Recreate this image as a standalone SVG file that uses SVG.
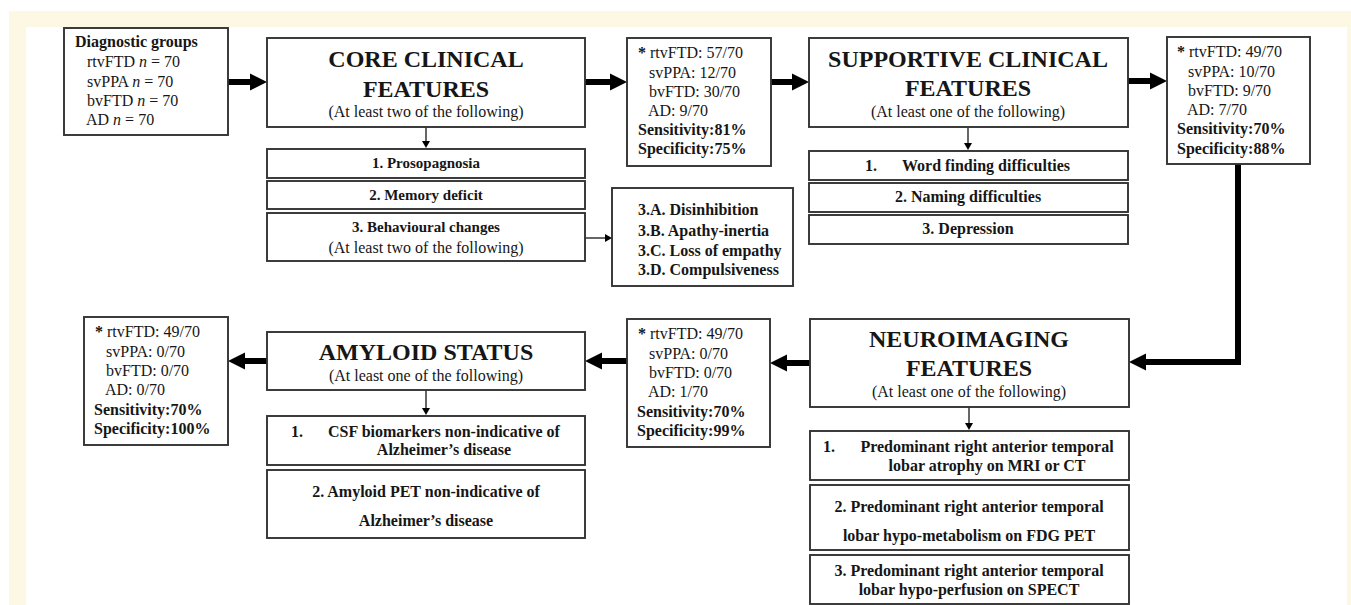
<svg xmlns="http://www.w3.org/2000/svg" width="1351" height="605" viewBox="0 0 1351 605">
<defs>
<style>
.bx{fill:#fff;stroke:#333;stroke-width:1.9}
text{font-family:"Liberation Serif","Times New Roman",serif;fill:#161616;font-size:16px}
.b{font-weight:bold}
.t{font-weight:bold;font-size:24px;text-anchor:middle}
.m{text-anchor:middle}
.s15{font-size:15px}
.thick{fill:none;stroke:#000;stroke-width:6;stroke-linejoin:miter}
.thin{fill:none;stroke:#000;stroke-width:1.2}
</style>
<marker id="ah" markerUnits="userSpaceOnUse" viewBox="0 -9 17 18" markerWidth="17" markerHeight="18" refX="0" refY="0" orient="auto">
<path d="M0,-8.5 L17,0 L0,8.5 z" fill="#000"/>
</marker>
<marker id="as" markerUnits="userSpaceOnUse" viewBox="0 -4 7 8" markerWidth="7" markerHeight="8" refX="0" refY="0" orient="auto">
<path d="M0,-4 L7,0 L0,4 z" fill="#000"/>
</marker>
</defs>
<rect x="0" y="0" width="1351" height="605" fill="#fff"/>
<rect x="9" y="11" width="1342" height="594" fill="#fdf8e3"/>
<rect x="26" y="27" width="1321" height="578" fill="#fff"/>

<g id="connectors">
<path class="thick" d="M228 82 H250" marker-end="url(#ah)"/>
<path class="thick" d="M585 82 H610" marker-end="url(#ah)"/>
<path class="thick" d="M771 82 H792" marker-end="url(#ah)"/>
<path class="thick" d="M1128 81 H1150" marker-end="url(#ah)"/>
<path class="thick" d="M1238 164 V362 H1146" marker-end="url(#ah)"/>
<path class="thick" d="M810 363 H787" marker-end="url(#ah)"/>
<path class="thick" d="M627 361 H602" marker-end="url(#ah)"/>
<path class="thick" d="M267 361 H245" marker-end="url(#ah)"/>
<path class="thin" d="M426 127 V141" marker-end="url(#as)"/>
<path class="thin" d="M585 238 H605" marker-end="url(#as)"/>
<path class="thin" d="M968 127 V143" marker-end="url(#as)"/>
<path class="thin" d="M969 407 V423" marker-end="url(#as)"/>
<path class="thin" d="M426 390 V408" marker-end="url(#as)"/>
</g>

<g id="diagnostic-groups">
<rect class="bx" x="64" y="28" width="164" height="107"/>
<text class="b" x="75" y="47">Diagnostic groups</text>
<text x="87" y="67">rtvFTD <tspan font-style="italic">n</tspan> = 70</text>
<text x="87" y="87">svPPA <tspan font-style="italic">n</tspan> = 70</text>
<text x="87" y="106">bvFTD <tspan font-style="italic">n</tspan> = 70</text>
<text x="86" y="125">AD <tspan font-style="italic">n</tspan> = 70</text>
</g>

<g id="core-clinical">
<rect class="bx" x="267" y="38" width="318" height="89"/>
<text class="t" x="426" y="67">CORE CLINICAL</text>
<text class="t" x="426" y="97">FEATURES</text>
<text class="m" x="426" y="117">(At least two of the following)</text>
</g>
<g id="core-1">
<rect class="bx" x="267" y="149" width="318" height="29"/>
<text class="b m s15" x="426" y="168">1. Prosopagnosia</text>
</g>
<g id="core-2">
<rect class="bx" x="267" y="181" width="318" height="28"/>
<text class="b m s15" x="426" y="200">2. Memory deficit</text>
</g>
<g id="core-3">
<rect class="bx" x="267" y="213" width="318" height="48"/>
<text class="b m s15" x="426" y="232">3. Behavioural changes</text>
<text class="m" x="426" y="253">(At least two of the following)</text>
</g>
<g id="behaviour-list">
<rect class="bx" x="612" y="188" width="181" height="98"/>
<text class="b" x="638" y="215">3.A. Disinhibition</text>
<text class="b" x="638" y="236">3.B. Apathy-inertia</text>
<text class="b" x="638" y="256">3.C. Loss of empathy</text>
<text class="b" x="638" y="275">3.D. Compulsiveness</text>
</g>

<g id="result-core">
<rect class="bx" x="627" y="38" width="144" height="128"/>
<text x="638" y="58"><tspan class="b">*</tspan> rtvFTD: 57/70</text>
<text x="649" y="78">svPPA: 12/70</text>
<text x="649" y="97">bvFTD: 30/70</text>
<text x="648" y="116">AD: 9/70</text>
<text class="b" x="638" y="135">Sensitivity:81%</text>
<text class="b" x="638" y="154">Specificity:75%</text>
</g>

<g id="supportive-clinical">
<rect class="bx" x="809" y="38" width="319" height="89"/>
<text class="t" x="968" y="67">SUPPORTIVE CLINICAL</text>
<text class="t" x="968" y="96">FEATURES</text>
<text class="m" x="968" y="117">(At least one of the following)</text>
</g>
<g id="supportive-1">
<rect class="bx" x="809" y="151" width="319" height="29"/>
<text class="b" x="865" y="171">1.</text>
<text class="b" x="902" y="171">Word finding difficulties</text>
</g>
<g id="supportive-2">
<rect class="bx" x="809" y="183" width="319" height="29"/>
<text class="b m" x="968" y="202">2. Naming difficulties</text>
</g>
<g id="supportive-3">
<rect class="bx" x="809" y="215" width="319" height="29"/>
<text class="b m" x="968" y="234">3. Depression</text>
</g>

<g id="result-supportive">
<rect class="bx" x="1167" y="37" width="143" height="127"/>
<text x="1177" y="57"><tspan class="b">*</tspan> rtvFTD: 49/70</text>
<text x="1188" y="77">svPPA: 10/70</text>
<text x="1188" y="96">bvFTD: 9/70</text>
<text x="1187" y="115">AD: 7/70</text>
<text class="b" x="1177" y="134">Sensitivity:70%</text>
<text class="b" x="1177" y="154">Specificity:88%</text>
</g>

<g id="neuroimaging">
<rect class="bx" x="810" y="319" width="319" height="88"/>
<text class="t" x="969" y="347">NEUROIMAGING</text>
<text class="t" x="969" y="376">FEATURES</text>
<text class="m" x="969" y="397">(At least one of the following)</text>
</g>
<g id="neuro-1">
<rect class="bx" x="810" y="431" width="319" height="49"/>
<text class="b" x="823" y="452">1.</text>
<text class="b m" x="987" y="452">Predominant right anterior temporal</text>
<text class="b m" x="987" y="471">lobar atrophy on MRI or CT</text>
</g>
<g id="neuro-2">
<rect class="bx" x="810" y="485" width="319" height="65"/>
<text class="b m" x="969" y="512">2.  Predominant right anterior temporal</text>
<text class="b m" x="969" y="541">lobar hypo-metabolism on FDG PET</text>
</g>
<g id="neuro-3">
<rect class="bx" x="810" y="555" width="319" height="49"/>
<text class="b m" x="969" y="576">3. Predominant right anterior temporal</text>
<text class="b m" x="969" y="595">lobar hypo-perfusion on SPECT</text>
</g>

<g id="result-neuro">
<rect class="bx" x="627" y="319" width="143" height="128"/>
<text x="638" y="339"><tspan class="b">*</tspan> rtvFTD: 49/70</text>
<text x="649" y="359">svPPA: 0/70</text>
<text x="649" y="378">bvFTD: 0/70</text>
<text x="648" y="397">AD: 1/70</text>
<text class="b" x="637" y="417">Sensitivity:70%</text>
<text class="b" x="637" y="436">Specificity:99%</text>
</g>

<g id="amyloid">
<rect class="bx" x="267" y="332" width="318" height="58"/>
<text class="t" x="426" y="360">AMYLOID STATUS</text>
<text class="m" x="426" y="381">(At least one of the following)</text>
</g>
<g id="amyloid-1">
<rect class="bx" x="267" y="416" width="318" height="49"/>
<text class="b" x="291" y="437">1.</text>
<text class="b m" x="444" y="437">CSF biomarkers non-indicative of</text>
<text class="b m" x="444" y="455">Alzheimer’s disease</text>
</g>
<g id="amyloid-2">
<rect class="bx" x="267" y="470" width="318" height="68"/>
<text class="b m" x="426" y="497">2. Amyloid PET non-indicative of</text>
<text class="b m" x="426" y="526">Alzheimer’s disease</text>
</g>

<g id="result-amyloid">
<rect class="bx" x="84" y="317" width="144" height="128"/>
<text x="95" y="337"><tspan class="b">*</tspan> rtvFTD: 49/70</text>
<text x="106" y="357">svPPA: 0/70</text>
<text x="106" y="376">bvFTD: 0/70</text>
<text x="105" y="395">AD: 0/70</text>
<text class="b" x="94" y="415">Sensitivity:70%</text>
<text class="b" x="94" y="434">Specificity:100%</text>
</g>
</svg>
